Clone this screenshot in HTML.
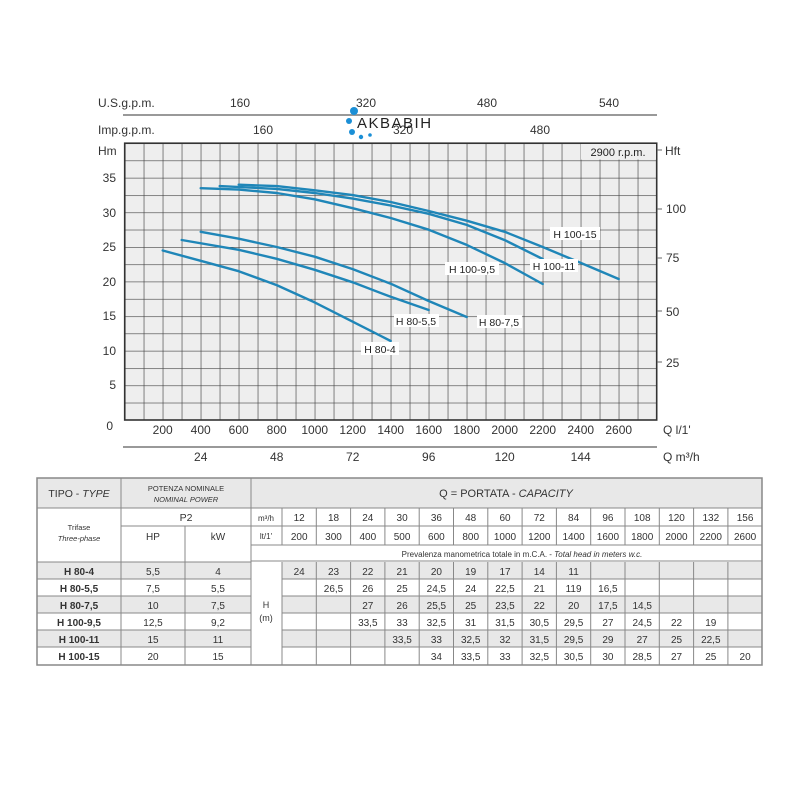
<!DOCTYPE html>
<html><head><meta charset="utf-8"><style>
body{margin:0;background:#fff}
svg{display:block;font-family:"Liberation Sans",sans-serif}
</style></head><body>
<svg width="800" height="800" viewBox="0 0 800 800" xmlns="http://www.w3.org/2000/svg">
<defs>
<pattern id="g" patternUnits="userSpaceOnUse" x="124.7" y="143.2" width="19" height="17.3">
<rect width="19" height="17.3" fill="#eeeeee"/>
<path d="M0 0H19M0 0V17.3" stroke="#444" stroke-width="1.3" fill="none"/>
</pattern>
</defs>
<rect width="800" height="800" fill="#fff"/>
<g fill="#333" font-size="12">
<text x="98" y="107">U.S.g.p.m.</text>
<text x="98" y="134">Imp.g.p.m.</text>
<text x="240" y="107" text-anchor="middle">160</text>
<text x="366" y="107" text-anchor="middle">320</text>
<text x="487" y="107" text-anchor="middle">480</text>
<text x="609" y="107" text-anchor="middle">540</text>
<text x="263" y="134" text-anchor="middle">160</text>
<text x="403" y="134" text-anchor="middle">320</text>
<text x="540" y="134" text-anchor="middle">480</text>
</g>
<line x1="123" y1="115" x2="657" y2="115" stroke="#999" stroke-width="2"/>
<g fill="#1b8fd6">
<circle cx="354" cy="111" r="4"/><circle cx="349" cy="121" r="3"/><circle cx="352" cy="132" r="3"/><circle cx="361" cy="137" r="2.2"/><circle cx="370" cy="135" r="1.8"/>
</g>
<text x="357" y="128" font-size="15" fill="#222" letter-spacing="1.5">AKBABIH</text>
<rect x="124.7" y="143.2" width="532" height="276.8" fill="url(#g)"/>
<rect x="124.7" y="143.2" width="532" height="276.8" fill="none" stroke="#333" stroke-width="1.6"/>
<rect x="581" y="144" width="75" height="15.5" fill="#efefef"/>
<text x="618" y="156" font-size="11" fill="#222" text-anchor="middle">2900 r.p.m.</text>
<g fill="#333" font-size="12">
<text x="98" y="155">Hm</text>
<text x="665" y="155">Hft</text>
<text x="116" y="182" text-anchor="end">35</text>
<text x="116" y="217" text-anchor="end">30</text>
<text x="116" y="251" text-anchor="end">25</text>
<text x="116" y="286" text-anchor="end">20</text>
<text x="116" y="320" text-anchor="end">15</text>
<text x="116" y="355" text-anchor="end">10</text>
<text x="116" y="389" text-anchor="end">5</text>
<text x="113" y="430" text-anchor="end">0</text>
<text x="666" y="213">100</text>
<text x="666" y="262">75</text>
<text x="666" y="316">50</text>
<text x="666" y="367">25</text>
</g>
<g stroke="#666" stroke-width="1">
<line x1="657" y1="209" x2="662" y2="209"/><line x1="657" y1="258" x2="662" y2="258"/><line x1="657" y1="311" x2="662" y2="311"/><line x1="657" y1="362" x2="662" y2="362"/><line x1="657" y1="150" x2="662" y2="150"/>
</g>
<g fill="#333" font-size="12" text-anchor="middle">
<text x="162.7" y="434">200</text><text x="200.7" y="434">400</text><text x="238.7" y="434">600</text><text x="276.7" y="434">800</text><text x="314.7" y="434">1000</text><text x="352.7" y="434">1200</text><text x="390.7" y="434">1400</text><text x="428.7" y="434">1600</text><text x="466.7" y="434">1800</text><text x="504.7" y="434">2000</text><text x="542.7" y="434">2200</text><text x="580.7" y="434">2400</text><text x="618.7" y="434">2600</text>
<text x="200.7" y="461">24</text><text x="276.7" y="461">48</text><text x="352.7" y="461">72</text><text x="428.7" y="461">96</text><text x="504.7" y="461">120</text><text x="580.7" y="461">144</text>
</g>
<text x="663" y="434" font-size="12" fill="#333">Q  l/1'</text>
<text x="663" y="461" font-size="12" fill="#333">Q  m³/h</text>
<line x1="123" y1="447" x2="657" y2="447" stroke="#999" stroke-width="2"/>
<g fill="none" stroke="#1f86b8" stroke-width="2.4" stroke-linejoin="round" stroke-linecap="round">
<polyline points="162.7,250.5 200.7,260.8 238.7,271.2 276.7,285.1 314.7,302.4 352.7,321.7 390.7,341"/>
<polyline points="181.7,240 238.7,249.8 276.7,258.8 314.7,269.8 352.7,282.3 390.7,296.8 428.7,310"/>
<polyline points="200.7,231.8 238.7,238.7 276.7,247 314.7,256.7 352.7,269.1 390.7,283.7 428.7,301 466.7,317"/>
<polyline points="200.7,188.2 238.7,189.6 276.7,193 314.7,199.3 352.7,208.2 390.7,218 428.7,229.7 466.7,244.9 504.7,263 542.7,284"/>
<polyline points="219.7,186.1 276.7,188.9 314.7,193 352.7,198.6 390.7,205.5 428.7,213.8 466.7,224.9 504.7,240.1 542.7,259"/>
<polyline points="238.7,184.7 276.7,186.1 314.7,190.3 352.7,195.1 390.7,202 428.7,211 466.7,220.7 504.7,231.8 542.7,247 580.7,262.9 618.7,279"/>
</g>
<g font-size="10.5" fill="#222" text-anchor="middle">
<rect x="550" y="227" width="50" height="13" fill="#fff"/><text x="575" y="238">H 100-15</text>
<rect x="445" y="262" width="54" height="13" fill="#fff"/><text x="472" y="273">H 100-9,5</text>
<rect x="530" y="259" width="48" height="13" fill="#fff"/><text x="554" y="270">H 100-11</text>
<rect x="394" y="314" width="45" height="13" fill="#fff"/><text x="416" y="325">H 80-5,5</text>
<rect x="477" y="315" width="45" height="13" fill="#fff"/><text x="499" y="326">H 80-7,5</text>
<rect x="361" y="342" width="38" height="13" fill="#fff"/><text x="380" y="353">H 80-4</text>
</g>
<rect x="37" y="478" width="725" height="30" fill="#e8e8e8"/>
<rect x="37" y="562" width="214" height="17" fill="#e8e8e8"/>
<rect x="37" y="596" width="214" height="17" fill="#e8e8e8"/>
<rect x="37" y="630" width="214" height="17" fill="#e8e8e8"/>
<rect x="282" y="562" width="480" height="17" fill="#e8e8e8"/>
<rect x="282" y="596" width="480" height="17" fill="#e8e8e8"/>
<rect x="282" y="630" width="480" height="17" fill="#e8e8e8"/>
<g stroke="#888" stroke-width="1" fill="none">
<rect x="37" y="478" width="725" height="187" stroke-width="1.5"/>
<line x1="37" y1="508" x2="762" y2="508"/>
<line x1="121" y1="526" x2="251" y2="526"/>
<line x1="251" y1="526" x2="762" y2="526"/>
<line x1="251" y1="545" x2="762" y2="545"/>
<line x1="37" y1="562" x2="251" y2="562"/>
<line x1="251" y1="561" x2="762" y2="561"/>
<line x1="121" y1="478" x2="121" y2="665"/>
<line x1="185" y1="526" x2="185" y2="665"/>
<line x1="251" y1="478" x2="251" y2="665"/>
<line x1="282" y1="508" x2="282" y2="545"/>
<line x1="282" y1="562" x2="282" y2="665"/>
<path d="M37 579H251M37 596H251M37 613H251M37 630H251M37 647H251"/>
<path d="M282 579H762M282 596H762M282 613H762M282 630H762M282 647H762"/>
<path d="M316.3 508V545M350.6 508V545M384.9 508V545M419.2 508V545M453.5 508V545M487.8 508V545M522.1 508V545M556.4 508V545M590.7 508V545M625 508V545M659.3 508V545M693.6 508V545M727.9 508V545"/>
<path d="M316.3 562V665M350.6 562V665M384.9 562V665M419.2 562V665M453.5 562V665M487.8 562V665M522.1 562V665M556.4 562V665M590.7 562V665M625 562V665M659.3 562V665M693.6 562V665M727.9 562V665"/>
</g>
<g fill="#333" font-size="10" text-anchor="middle">
<text x="79" y="497" font-size="10.5">TIPO - <tspan font-style="italic">TYPE</tspan></text>
<text x="186" y="491" font-size="7.5">POTENZA NOMINALE</text>
<text x="186" y="502" font-size="7.5" font-style="italic">NOMINAL POWER</text>
<text x="506" y="497" font-size="11">Q = PORTATA - <tspan font-style="italic">CAPACITY</tspan></text>
<text x="186" y="521" font-size="10.5">P2</text>
<text x="79" y="530" font-size="7.5">Trifase</text>
<text x="79" y="541" font-size="7.5" font-style="italic">Three-phase</text>
<text x="153" y="540">HP</text><text x="218" y="540">kW</text>
<text x="266" y="521" font-size="8">m³/h</text><text x="266" y="539" font-size="8">lt/1'</text>
<text x="522" y="557" font-size="8">Prevalenza manometrica totale in m.C.A. - <tspan font-style="italic">Total head in meters w.c.</tspan></text>
<text x="266" y="608" font-size="9">H</text><text x="266" y="621" font-size="9">(m)</text>
</g>
<g fill="#333" font-size="10" text-anchor="middle">
<text y="521"><tspan x="299.2">12</tspan><tspan x="333.5">18</tspan><tspan x="367.8">24</tspan><tspan x="402.1">30</tspan><tspan x="436.4">36</tspan><tspan x="470.7">48</tspan><tspan x="505">60</tspan><tspan x="539.3">72</tspan><tspan x="573.6">84</tspan><tspan x="607.9">96</tspan><tspan x="642.2">108</tspan><tspan x="676.5">120</tspan><tspan x="710.8">132</tspan><tspan x="745.1">156</tspan></text>
<text y="540"><tspan x="299.2">200</tspan><tspan x="333.5">300</tspan><tspan x="367.8">400</tspan><tspan x="402.1">500</tspan><tspan x="436.4">600</tspan><tspan x="470.7">800</tspan><tspan x="505">1000</tspan><tspan x="539.3">1200</tspan><tspan x="573.6">1400</tspan><tspan x="607.9">1600</tspan><tspan x="642.2">1800</tspan><tspan x="676.5">2000</tspan><tspan x="710.8">2200</tspan><tspan x="745.1">2600</tspan></text>
<text y="575"><tspan x="79" font-weight="bold">H 80-4</tspan><tspan x="153">5,5</tspan><tspan x="218">4</tspan><tspan x="299.2">24</tspan><tspan x="333.5">23</tspan><tspan x="367.8">22</tspan><tspan x="402.1">21</tspan><tspan x="436.4">20</tspan><tspan x="470.7">19</tspan><tspan x="505">17</tspan><tspan x="539.3">14</tspan><tspan x="573.6">11</tspan></text>
<text y="592"><tspan x="79" font-weight="bold">H 80-5,5</tspan><tspan x="153">7,5</tspan><tspan x="218">5,5</tspan><tspan x="333.5">26,5</tspan><tspan x="367.8">26</tspan><tspan x="402.1">25</tspan><tspan x="436.4">24,5</tspan><tspan x="470.7">24</tspan><tspan x="505">22,5</tspan><tspan x="539.3">21</tspan><tspan x="573.6">119</tspan><tspan x="607.9">16,5</tspan></text>
<text y="609"><tspan x="79" font-weight="bold">H 80-7,5</tspan><tspan x="153">10</tspan><tspan x="218">7,5</tspan><tspan x="367.8">27</tspan><tspan x="402.1">26</tspan><tspan x="436.4">25,5</tspan><tspan x="470.7">25</tspan><tspan x="505">23,5</tspan><tspan x="539.3">22</tspan><tspan x="573.6">20</tspan><tspan x="607.9">17,5</tspan><tspan x="642.2">14,5</tspan></text>
<text y="626"><tspan x="79" font-weight="bold">H 100-9,5</tspan><tspan x="153">12,5</tspan><tspan x="218">9,2</tspan><tspan x="367.8">33,5</tspan><tspan x="402.1">33</tspan><tspan x="436.4">32,5</tspan><tspan x="470.7">31</tspan><tspan x="505">31,5</tspan><tspan x="539.3">30,5</tspan><tspan x="573.6">29,5</tspan><tspan x="607.9">27</tspan><tspan x="642.2">24,5</tspan><tspan x="676.5">22</tspan><tspan x="710.8">19</tspan></text>
<text y="643"><tspan x="79" font-weight="bold">H 100-11</tspan><tspan x="153">15</tspan><tspan x="218">11</tspan><tspan x="402.1">33,5</tspan><tspan x="436.4">33</tspan><tspan x="470.7">32,5</tspan><tspan x="505">32</tspan><tspan x="539.3">31,5</tspan><tspan x="573.6">29,5</tspan><tspan x="607.9">29</tspan><tspan x="642.2">27</tspan><tspan x="676.5">25</tspan><tspan x="710.8">22,5</tspan></text>
<text y="660"><tspan x="79" font-weight="bold">H 100-15</tspan><tspan x="153">20</tspan><tspan x="218">15</tspan><tspan x="436.4">34</tspan><tspan x="470.7">33,5</tspan><tspan x="505">33</tspan><tspan x="539.3">32,5</tspan><tspan x="573.6">30,5</tspan><tspan x="607.9">30</tspan><tspan x="642.2">28,5</tspan><tspan x="676.5">27</tspan><tspan x="710.8">25</tspan><tspan x="745.1">20</tspan></text>
</g>
</svg>
</body></html>
